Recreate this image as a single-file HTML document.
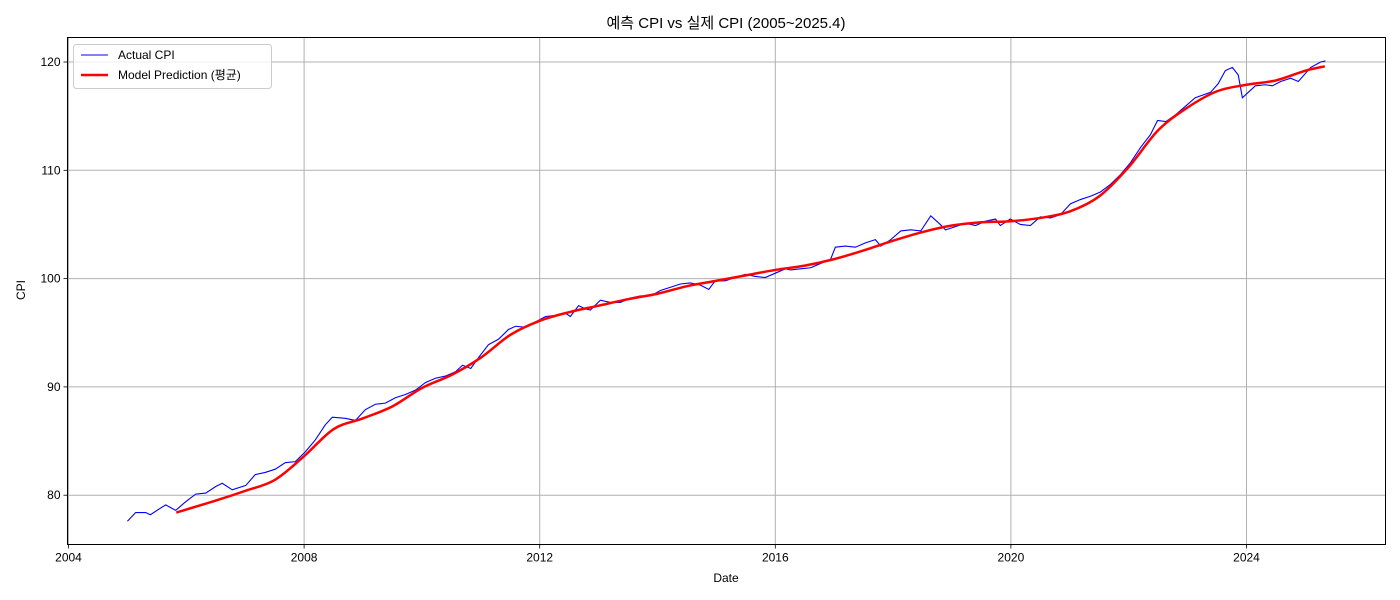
<!DOCTYPE html>
<html><head><meta charset="utf-8"><style>
body{margin:0;background:#fff;}
svg{display:block;font-family:"Liberation Sans","Noto Sans CJK KR",sans-serif;}
</style></head><body>
<svg id="chart" width="1400" height="600"></svg>
<script>
const actualDates=[2005.0,2005.14,2005.31,2005.39,2005.56,2005.65,2005.82,2005.99,2006.16,2006.33,2006.50,2006.61,2006.78,2007.01,2007.17,2007.34,2007.51,2007.68,2007.85,2008.02,2008.19,2008.36,2008.48,2008.70,2008.87,2009.04,2009.21,2009.38,2009.55,2009.72,2009.89,2010.06,2010.23,2010.40,2010.57,2010.69,2010.83,2010.96,2011.13,2011.30,2011.47,2011.59,2011.76,2011.93,2012.10,2012.27,2012.44,2012.52,2012.66,2012.78,2012.86,2013.03,2013.20,2013.37,2013.54,2013.71,2013.88,2014.05,2014.22,2014.39,2014.56,2014.73,2014.87,2014.98,2015.15,2015.32,2015.49,2015.66,2015.83,2016.00,2016.17,2016.26,2016.43,2016.60,2016.77,2016.94,2017.02,2017.19,2017.36,2017.53,2017.70,2017.79,2017.96,2018.13,2018.30,2018.47,2018.64,2018.80,2018.89,2019.06,2019.23,2019.40,2019.57,2019.74,2019.82,2019.99,2020.16,2020.33,2020.50,2020.67,2020.84,2021.01,2021.18,2021.35,2021.52,2021.69,2021.86,2022.03,2022.20,2022.37,2022.49,2022.63,2022.79,2022.96,2023.13,2023.39,2023.52,2023.64,2023.76,2023.86,2023.93,2024.15,2024.32,2024.44,2024.58,2024.75,2024.88,2025.09,2025.26,2025.34];
const actualValues=[77.6,78.4,78.4,78.2,78.8,79.1,78.6,79.4,80.1,80.2,80.8,81.1,80.5,80.9,81.9,82.1,82.4,83.0,83.1,84.0,85.1,86.5,87.2,87.1,86.9,87.9,88.4,88.5,89.0,89.3,89.7,90.4,90.8,91.0,91.4,92.0,91.7,92.7,93.9,94.4,95.3,95.6,95.5,96.0,96.5,96.6,96.8,96.5,97.5,97.2,97.1,98.0,97.8,97.8,98.2,98.4,98.4,98.9,99.2,99.5,99.6,99.4,99.0,99.8,99.8,100.1,100.4,100.2,100.1,100.5,100.9,100.8,100.9,101.0,101.4,101.8,102.9,103.0,102.9,103.3,103.6,103.0,103.6,104.4,104.5,104.4,105.8,105.0,104.5,104.8,105.1,104.9,105.3,105.5,104.9,105.5,105.0,104.9,105.7,105.6,105.9,106.9,107.3,107.6,108.0,108.7,109.6,110.7,112.1,113.3,114.6,114.5,115.1,115.9,116.7,117.2,118.0,119.2,119.5,118.8,116.7,117.8,117.9,117.8,118.2,118.5,118.2,119.5,120.0,120.1];
const predDates=[2005.83,2006.5,2007.0,2007.5,2008.0,2008.5,2009.0,2009.5,2010.0,2010.5,2011.0,2011.5,2012.0,2012.5,2013.0,2013.5,2014.0,2014.5,2015.0,2015.5,2016.0,2016.5,2017.0,2017.5,2018.0,2018.5,2019.0,2019.5,2020.0,2020.5,2021.0,2021.5,2022.0,2022.5,2023.0,2023.5,2024.0,2024.5,2025.0,2025.33];
const predValues=[78.4,79.5,80.4,81.4,83.6,86.1,87.1,88.2,89.9,91.1,92.7,94.8,96.1,96.9,97.5,98.1,98.6,99.3,99.8,100.3,100.8,101.2,101.8,102.6,103.5,104.3,104.9,105.2,105.3,105.6,106.2,107.6,110.3,113.7,115.8,117.3,117.9,118.3,119.2,119.6];
const xTicks=[2004,2008,2012,2016,2020,2024];
const yTicks=[80,90,100,110,120];

const L=67.5,R=1385.5,T=37.5,B=544.5;
const sx=d=>68.5+(d-2004)*58.9;
const sy=v=>62-(v-120)*10.83;
const NS='http://www.w3.org/2000/svg';
const svg=document.getElementById('chart');
function mk(tag,attrs,parent){const e=document.createElementNS(NS,tag);for(const k in attrs)e.setAttribute(k,attrs[k]);(parent||svg).appendChild(e);return e;}

xTicks.forEach(t=>{
  const g=mk('line',{x1:sx(t),x2:sx(t),y1:T,y2:B,stroke:'#b0b0b0','stroke-width':1});
  
  
  mk('line',{x1:sx(t),x2:sx(t),y1:B,y2:B+4,stroke:'#000','stroke-width':0.8});
  const tx=mk('text',{x:sx(t),y:B+17,'text-anchor':'middle','font-size':12,fill:'#000'});
  tx.textContent=t;
  
  
});
yTicks.forEach(t=>{
  const g=mk('line',{x1:L,x2:R,y1:sy(t),y2:sy(t),stroke:'#b0b0b0','stroke-width':1});
  
  
  mk('line',{x1:L-4,x2:L,y1:sy(t),y2:sy(t),stroke:'#000','stroke-width':0.8});
  const tx=mk('text',{x:L-7,y:sy(t)+4,'text-anchor':'end','font-size':12,fill:'#000'});
  tx.textContent=t;
  
  
});

const a=mk('polyline',{points:actualDates.map((d,i)=>sx(d)+','+sy(actualValues[i])).join(' '),fill:'none',stroke:'#0000ff','stroke-width':1.1});



// smooth prediction via Catmull-Rom
const pts=predDates.map((d,i)=>[sx(d),sy(predValues[i])]);
let dstr='M'+pts[0][0]+','+pts[0][1];
for(let i=0;i<pts.length-1;i++){
  const p0=pts[Math.max(0,i-1)],p1=pts[i],p2=pts[i+1],p3=pts[Math.min(pts.length-1,i+2)];
  const c1x=p1[0]+(p2[0]-p0[0])/6,c1y=p1[1]+(p2[1]-p0[1])/6;
  const c2x=p2[0]-(p3[0]-p1[0])/6,c2y=p2[1]-(p3[1]-p1[1])/6;
  dstr+=' C'+c1x+','+c1y+' '+c2x+','+c2y+' '+p2[0]+','+p2[1];
}
const p=mk('path',{d:dstr,fill:'none',stroke:'#ff0000','stroke-width':2.5,'stroke-linejoin':'round'});



const frame=mk('rect',{x:L,y:T,width:R-L,height:B-T,fill:'none',stroke:'#000','stroke-width':1});



const title=mk('text',{x:726,y:28,'text-anchor':'middle','font-size':15,fill:'#000'});
title.textContent='예측 CPI vs 실제 CPI (2005~2025.4)';


const xl=mk('text',{x:726,y:582,'text-anchor':'middle','font-size':12,fill:'#000'});
xl.textContent='Date';


const yl=mk('text',{x:0,y:0,'text-anchor':'middle','font-size':12,fill:'#000',transform:'translate(25,290) rotate(-90)'});
yl.textContent='CPI';



const lg=mk('g',{});


mk('rect',{x:73.5,y:44.5,width:198,height:44,rx:3,fill:'#fff','fill-opacity':0.8,stroke:'#ccc'},lg);
mk('line',{x1:81,x2:108,y1:55,y2:55,stroke:'#0000ff','stroke-width':1.1},lg);
const t1=mk('text',{x:118,y:59,'font-size':12,fill:'#000'},lg);
t1.textContent='Actual CPI';


mk('line',{x1:81,x2:108,y1:75,y2:75,stroke:'#ff0000','stroke-width':2.5},lg);
const t2=mk('text',{x:118,y:79,'font-size':12,fill:'#000'},lg);
t2.textContent='Model Prediction (평균)';


</script>
</body></html>
